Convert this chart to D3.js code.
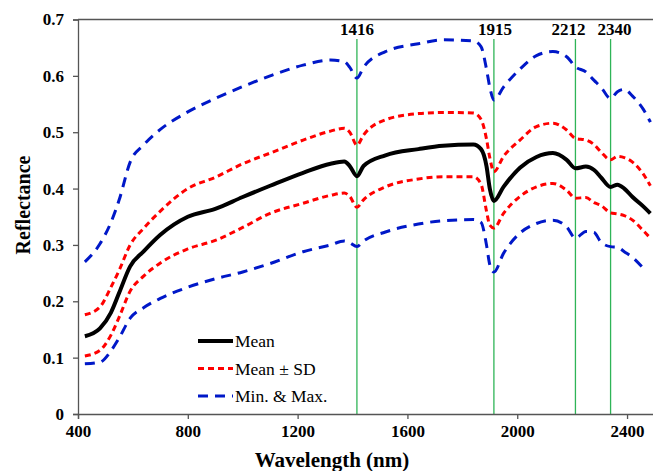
<!DOCTYPE html>
<html>
<head>
<meta charset="utf-8">
<script src="https://cdn.jsdelivr.net/npm/d3@7"></script>
<style>
  body { margin: 0; background: #fff; }
  svg { display: block; font-family: "Liberation Serif", "Times New Roman", serif; }
</style>
</head>
<body>
<div id="container"></div>
<script>
// wavelength grid (nm)
let wavelengths = [425, 480, 520, 550, 590, 640, 700, 800, 900, 1000, 1100, 1220, 1320, 1370, 1390, 1416, 1440, 1520, 1640, 1730, 1840, 1868, 1888, 1900, 1915, 1950, 2010, 2070, 2130, 2180, 2212, 2250, 2280, 2305, 2340, 2365, 2390, 2420, 2460, 2485];

let meanValues = [0.138, 0.152, 0.180, 0.215, 0.262, 0.289, 0.318, 0.350, 0.364, 0.385, 0.405, 0.428, 0.444, 0.448, 0.440, 0.422, 0.440, 0.459, 0.470, 0.476, 0.478, 0.470, 0.440, 0.400, 0.378, 0.403, 0.437, 0.456, 0.463, 0.451, 0.436, 0.439, 0.433, 0.420, 0.403, 0.407, 0.400, 0.385, 0.368, 0.356];
let meanPlusSD = [0.176, 0.190, 0.225, 0.255, 0.300, 0.330, 0.360, 0.400, 0.420, 0.444, 0.463, 0.486, 0.502, 0.507, 0.500, 0.477, 0.495, 0.522, 0.533, 0.535, 0.534, 0.523, 0.488, 0.455, 0.430, 0.457, 0.486, 0.510, 0.516, 0.504, 0.489, 0.486, 0.478, 0.465, 0.451, 0.457, 0.455, 0.447, 0.425, 0.405];
let meanMinusSD = [0.103, 0.113, 0.140, 0.172, 0.218, 0.245, 0.268, 0.293, 0.308, 0.331, 0.356, 0.374, 0.388, 0.392, 0.386, 0.367, 0.380, 0.403, 0.417, 0.421, 0.421, 0.408, 0.360, 0.335, 0.330, 0.356, 0.386, 0.403, 0.409, 0.397, 0.383, 0.384, 0.375, 0.370, 0.357, 0.355, 0.352, 0.344, 0.325, 0.312];
let maxValues = [0.270, 0.302, 0.340, 0.380, 0.447, 0.478, 0.505, 0.536, 0.560, 0.581, 0.600, 0.619, 0.628, 0.625, 0.615, 0.596, 0.615, 0.643, 0.657, 0.664, 0.662, 0.652, 0.612, 0.580, 0.557, 0.580, 0.612, 0.636, 0.643, 0.634, 0.616, 0.607, 0.592, 0.580, 0.560, 0.572, 0.576, 0.564, 0.540, 0.518];
let minValues = [0.089, 0.092, 0.112, 0.135, 0.170, 0.189, 0.205, 0.225, 0.240, 0.252, 0.267, 0.288, 0.300, 0.307, 0.304, 0.297, 0.307, 0.323, 0.337, 0.343, 0.345, 0.340, 0.300, 0.265, 0.252, 0.285, 0.321, 0.338, 0.344, 0.332, 0.312, 0.324, 0.322, 0.305, 0.297, 0.296, 0.288, 0.278, 0.258, null];

// marked absorption bands
let bands = [1416, 1915, 2212, 2340];

let xTicks = [400, 800, 1200, 1600, 2000, 2400];
let yTicks = [0, 0.1, 0.2, 0.3, 0.4, 0.5, 0.6, 0.7];

let legendLabels = ["Mean", "Mean \u00b1 SD", "Min. & Max."];

let width = 653;
let height = 471;

let svg = d3.select("#container")
    .append("svg")
    .attr("width", width)
    .attr("height", height);

let x = d3.scaleLinear().domain([400, 2500]).range([78, 654.5]);
let y = d3.scaleLinear().domain([0, 0.7]).range([414, 19.5]);

// green band lines
svg.selectAll(".band")
    .data(bands)
    .enter()
    .append("line")
    .attr("x1", d => x(d)).attr("x2", d => x(d))
    .attr("y1", 39).attr("y2", y(0))
    .attr("stroke", "#2fb457")
    .attr("stroke-width", 1.3);

// labels nudged sideways so 2212 and 2340 don't collide
let labelShift = [0, 1, -7, 4];
svg.selectAll(".bandLabel")
    .data(bands)
    .enter()
    .append("text")
    .attr("x", (d, i) => x(d) + labelShift[i])
    .attr("y", 34.5)
    .attr("text-anchor", "middle")
    .attr("font-weight", "bold")
    .attr("font-size", 17)
    .text(d => d);

// top frame line
svg.append("line")
    .attr("x1", x(400)).attr("x2", width)
    .attr("y1", y(0.7)).attr("y2", y(0.7))
    .attr("stroke", "#555").attr("stroke-width", 1.3);

// axes
let xAxis = svg.append("g")
    .attr("transform", "translate(0," + y(0) + ")")
    .call(d3.axisBottom(x).tickValues(xTicks).tickSize(5).tickPadding(6).tickFormat(d3.format("d")));
let yAxis = svg.append("g")
    .attr("transform", "translate(" + x(400) + ",0)")
    .call(d3.axisLeft(y).tickValues(yTicks).tickSize(5).tickPadding(9).tickFormat(d => d === 0 ? "0" : d3.format(".1f")(d)));

[xAxis, yAxis].forEach(a => {
    a.select(".domain").attr("stroke", "#555").attr("stroke-width", 1.3);
    a.selectAll(".tick line").attr("stroke", "#555").attr("stroke-width", 1.3);
    a.selectAll("text")
        .attr("fill", "#000")
        .attr("font-family", "Liberation Serif, serif")
        .attr("font-weight", "bold")
        .attr("font-size", 17);
});

// axis titles
svg.append("text")
    .attr("x", 332).attr("y", 467)
    .attr("text-anchor", "middle")
    .attr("font-weight", "bold")
    .attr("font-size", 21)
    .text("Wavelength (nm)");

svg.append("text")
    .attr("transform", "translate(30,205) rotate(-90)")
    .attr("text-anchor", "middle")
    .attr("font-weight", "bold")
    .attr("font-size", 20)
    .text("Reflectance");

// series
let line = d3.line()
    .defined(d => d[1] !== null)
    .x(d => x(d[0]))
    .y(d => y(d[1]))
    .curve(d3.curveMonotoneX);

function pairs(values) {
    return wavelengths.map((w, i) => [w, values[i]]);
}

let series = [
    { values: maxValues, color: "#0018c8", w: 3, dash: "10,7" },
    { values: minValues, color: "#0018c8", w: 3, dash: "10,7" },
    { values: meanPlusSD, color: "#ff0000", w: 3, dash: "6,4" },
    { values: meanMinusSD, color: "#ff0000", w: 3, dash: "6,4" },
    { values: meanValues, color: "#000", w: 4, dash: null }
];

svg.selectAll(".series")
    .data(series)
    .enter()
    .append("path")
    .attr("d", d => line(pairs(d.values)))
    .attr("fill", "none")
    .attr("stroke", d => d.color)
    .attr("stroke-width", d => d.w)
    .attr("stroke-dasharray", d => d.dash);

// legend
let legendStyles = [
    { color: "#000", w: 4, dash: null },
    { color: "#ff0000", w: 3, dash: "6,4" },
    { color: "#0018c8", w: 3, dash: "10,7" }
];

let legend = svg.selectAll(".legend")
    .data(legendLabels)
    .enter()
    .append("g")
    .attr("transform", (d, i) => "translate(198," + (341 + i * 27.5) + ")");

legend.append("line")
    .attr("x1", 0).attr("x2", 35)
    .attr("stroke", (d, i) => legendStyles[i].color)
    .attr("stroke-width", (d, i) => legendStyles[i].w)
    .attr("stroke-dasharray", (d, i) => legendStyles[i].dash);

legend.append("text")
    .attr("x", 37)
    .attr("y", 6)
    .attr("font-size", 17.5)
    .text(d => d);
</script>
</body>
</html>
